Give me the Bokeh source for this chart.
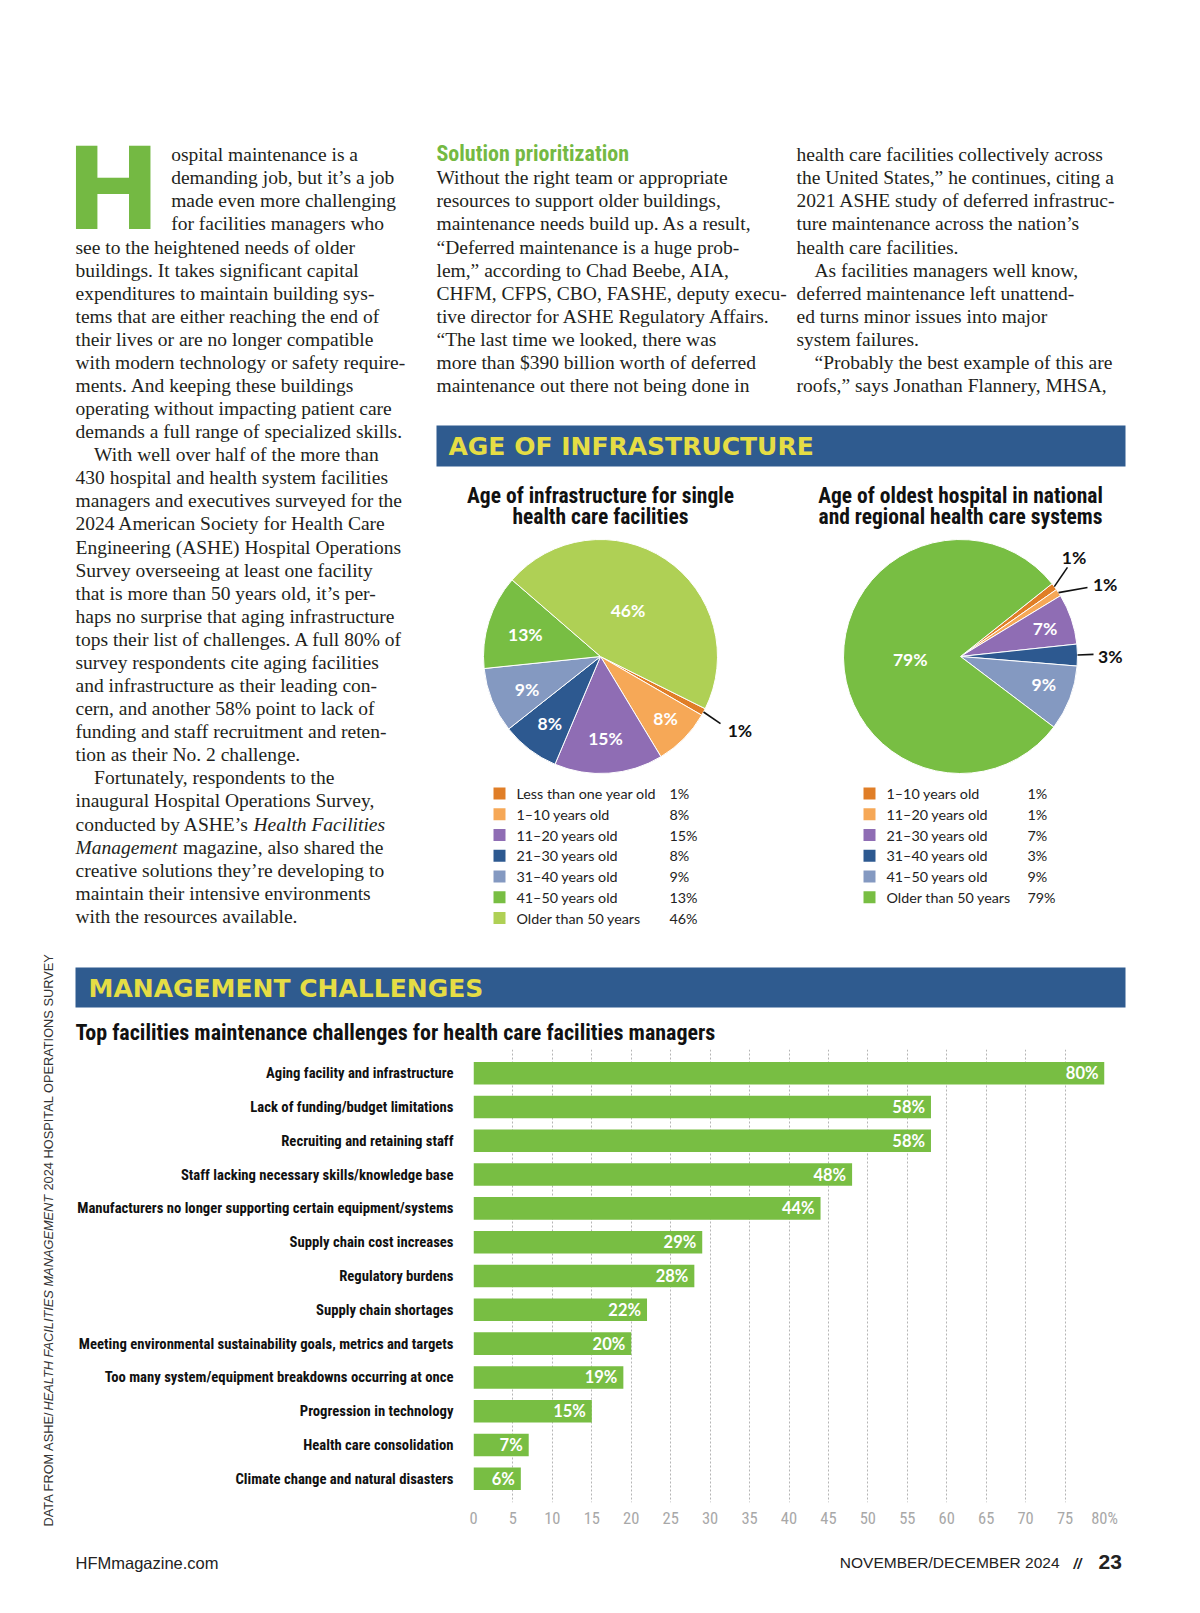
import numpy as np
from bokeh.plotting import figure
from bokeh.models import Range1d, FixedTicker
from bokeh.layouts import column, row
from bokeh.embed import file_html
from bokeh.resources import INLINE
from bokeh.core.properties import value

# ---------------- DATA ----------------
single_cats = ["Less than one year old", "1\u201310 years old", "11\u201320 years old",
               "21\u201330 years old", "31\u201340 years old", "41\u201350 years old",
               "Older than 50 years"]
single_vals = [1, 8, 15, 8, 9, 13, 46]

system_cats = ["1\u201310 years old", "11\u201320 years old", "21\u201330 years old",
               "31\u201340 years old", "41\u201350 years old", "Older than 50 years"]
system_vals = [1, 1, 7, 3, 9, 79]

challenges = [
    "Aging facility and infrastructure",
    "Lack of funding/budget limitations",
    "Recruiting and retaining staff",
    "Staff lacking necessary skills/knowledge base",
    "Manufacturers no longer supporting certain equipment/systems",
    "Supply chain cost increases",
    "Regulatory burdens",
    "Supply chain shortages",
    "Meeting environmental sustainability goals, metrics and targets",
    "Too many system/equipment breakdowns occurring at once",
    "Progression in technology",
    "Health care consolidation",
    "Climate change and natural disasters",
]
challenge_vals = [80, 58, 58, 48, 44, 29, 28, 22, 20, 19, 15, 7, 6]

x_ticks = list(range(0, 81, 5))
x_tick_labels = [str(t) for t in x_ticks[:-1]] + ["80%"]

# ---------------- STYLE ----------------
DARK_OR = "#e07e27"
LIGHT_OR = "#f6a857"
PURPLE = "#8f6db4"
DBLUE = "#2d5990"
GBLUE = "#8499c1"
GREEN = "#78be43"
LGREEN = "#afd055"
BANNER = "#2f5b8f"
YELLOW = "#e5dd45"
HGREEN = "#74b943"
INK = "#231f20"

single_colors = [DARK_OR, LIGHT_OR, PURPLE, DBLUE, GBLUE, GREEN, LGREEN]
system_colors = [DARK_OR, LIGHT_OR, PURPLE, DBLUE, GBLUE, GREEN]

SERIF = "Liberation Serif"
NARROW = "Roboto Condensed, Roboto"
SANS = "Liberation Sans"
HUM = "Lato"

PAGE_W = 1184


def page_fig(x0, x1, y0, y1):
    p = figure(width=x1 - x0, height=y1 - y0,
               x_range=Range1d(x0, x1), y_range=Range1d(-y1, -y0),
               x_axis_type=None, y_axis_type=None,
               toolbar_location=None, output_backend="svg", min_border=0)
    p.grid.visible = False
    p.outline_line_color = None
    p.background_fill_color = "white"
    p.border_fill_color = "white"
    return p


def txt(p, xs, ys, texts, size, font=SERIF, style="normal", color=INK,
        align="left", baseline="middle", angle=0.0):
    if not isinstance(xs, (list, tuple)):
        xs = [xs]
    if not isinstance(ys, (list, tuple)):
        ys = [ys]
    if isinstance(texts, str):
        texts = [texts]
    if len(xs) == 1 and len(texts) > 1:
        xs = xs * len(texts)
    p.text(x=xs, y=[-y for y in ys], text=texts, text_font=value(font),
           text_font_size=f"{size}px", text_font_style=style, text_color=color,
           text_align=align, text_baseline=baseline, angle=angle)


# ================= FIGURE A (top of page) =================
A = page_fig(0, PAGE_W, 0, 940)

LY0, LS = 154.2, 23.08
BODY = 19.5


def ly(i):
    return LY0 + i * LS


# drop cap
txt(A, 65, 189, "H", 114, font="DejaVu Sans", style="bold", color=HGREEN, baseline="middle")

col1 = [
    (170.7, "ospital maintenance is a"),
    (170.7, "demanding job, but it\u2019s a job"),
    (170.7, "made even more challenging"),
    (170.7, "for facilities managers who"),
    (75, "see to the heightened needs of older"),
    (75, "buildings. It takes significant capital"),
    (75, "expenditures to maintain building sys-"),
    (75, "tems that are either reaching the end of"),
    (75, "their lives or are no longer compatible"),
    (75, "with modern technology or safety require-"),
    (75, "ments. And keeping these buildings"),
    (75, "operating without impacting patient care"),
    (75, "demands a full range of specialized skills."),
    (93.6, "With well over half of the more than"),
    (75, "430 hospital and health system facilities"),
    (75, "managers and executives surveyed for the"),
    (75, "2024 American Society for Health Care"),
    (75, "Engineering (ASHE) Hospital Operations"),
    (75, "Survey overseeing at least one facility"),
    (75, "that is more than 50 years old, it\u2019s per-"),
    (75, "haps no surprise that aging infrastructure"),
    (75, "tops their list of challenges. A full 80% of"),
    (75, "survey respondents cite aging facilities"),
    (75, "and infrastructure as their leading con-"),
    (75, "cern, and another 58% point to lack of"),
    (75, "funding and staff recruitment and reten-"),
    (75, "tion as their No. 2 challenge."),
    (93.6, "Fortunately, respondents to the"),
    (75, "inaugural Hospital Operations Survey,"),
    (75, "conducted by ASHE\u2019s"),
    (182.5, "magazine, also shared the"),
    (75, "creative solutions they\u2019re developing to"),
    (75, "maintain their intensive environments"),
    (75, "with the resources available."),
]
txt(A, [c[0] for c in col1], [ly(i) for i in range(len(col1))], [c[1] for c in col1], BODY)
txt(A, [253, 75], [ly(29), ly(30)], ["Health Facilities", "Management"], BODY, style="italic")

txt(A, 436, ly(0) - 1, "Solution prioritization", 22, font=NARROW, style="bold", color=HGREEN)
col2 = [
    "Without the right team or appropriate",
    "resources to support older buildings,",
    "maintenance needs build up. As a result,",
    "\u201cDeferred maintenance is a huge prob-",
    "lem,\u201d according to Chad Beebe, AIA,",
    "CHFM, CFPS, CBO, FASHE, deputy execu-",
    "tive director for ASHE Regulatory Affairs.",
    "\u201cThe last time we looked, there was",
    "more than $390 billion worth of deferred",
    "maintenance out there not being done in",
]
txt(A, [436] * len(col2), [ly(i + 1) for i in range(len(col2))], col2, BODY)

col3 = [
    (796, "health care facilities collectively across"),
    (796, "the United States,\u201d he continues, citing a"),
    (796, "2021 ASHE study of deferred infrastruc-"),
    (796, "ture maintenance across the nation\u2019s"),
    (796, "health care facilities."),
    (814, "As facilities managers well know,"),
    (796, "deferred maintenance left unattend-"),
    (796, "ed turns minor issues into major"),
    (796, "system failures."),
    (814, "\u201cProbably the best example of this are"),
    (796, "roofs,\u201d says Jonathan Flannery, MHSA,"),
]
txt(A, [c[0] for c in col3], [ly(i) for i in range(len(col3))], [c[1] for c in col3], BODY)

# banner
A.quad(left=436, right=1125, top=-425, bottom=-466, fill_color=BANNER, line_color=None)
txt(A, 448, 446, "AGE OF INFRASTRUCTURE", 25, font="DejaVu Sans", style="bold", color=YELLOW)

# pie titles
txt(A, [600, 600], [495, 516], ["Age of infrastructure for single", "health care facilities"],
    21.5, font=NARROW, style="bold", color="#111111", align="center")
txt(A, [960, 960], [495, 516], ["Age of oldest hospital in national", "and regional health care systems"],
    21.5, font=NARROW, style="bold", color="#111111", align="center")


def draw_pie(p, cx, cy, r, vals, colors, a0, lab_r, lab_da, outside):
    v = np.array(vals, dtype=float)
    cum = np.concatenate([[0.0], np.cumsum(v)])
    tot = cum[-1]
    a_st = a0 - cum[:-1] / tot * 360.0
    a_en = a0 - cum[1:] / tot * 360.0
    p.wedge(x=cx, y=-cy, radius=r, start_angle=list(np.radians(a_st)),
            end_angle=list(np.radians(a_en)), direction="clock",
            fill_color=colors, line_color="white", line_width=1)
    mid = (a_st + a_en) / 2.0
    in_x, in_y, in_t = [], [], []
    out_x, out_y, out_t = [], [], []
    sx0, sy0, sx1, sy1 = [], [], [], []
    for i, val in enumerate(vals):
        lab = f"{val}%"
        if outside[i] is None:
            a = np.radians(mid[i] + lab_da[i])
            in_x.append(cx + lab_r[i] * r * np.cos(a))
            in_y.append(cy - lab_r[i] * r * np.sin(a))
            in_t.append(lab)
        else:
            lr, lda, tr, tda = outside[i]
            am = np.radians(mid[i])
            al = np.radians(mid[i] + lda)
            at = np.radians(mid[i] + tda)
            sx0.append(cx + r * np.cos(am)); sy0.append(-(cy - r * np.sin(am)))
            sx1.append(cx + lr * r * np.cos(al)); sy1.append(-(cy - lr * r * np.sin(al)))
            out_x.append(cx + tr * r * np.cos(at))
            out_y.append(cy - tr * r * np.sin(at))
            out_t.append(lab)
    txt(p, in_x, in_y, in_t, 17.5, font=HUM, style="bold", color="white", align="center")
    if out_t:
        p.segment(x0=sx0, y0=sy0, x1=sx1, y1=sy1, line_color="#111111", line_width=1.6)
        txt(p, out_x, out_y, out_t, 17.5, font=HUM, style="bold", color="#111111", align="center")


draw_pie(A, 600, 656, 117, single_vals, single_colors, -26.5,
         [0, 0.77, 0.70, 0.72, 0.69, 0.67, 0.46],
         [0, 0.7, -0.6, 0.3, 2.3, 1.1, 3.0],
         [(1.175, -0.9, 1.35, 0.3), None, None, None, None, None, None])
draw_pie(A, 960, 656, 117, system_vals, system_colors, 38.5,
         [0, 0, 0.76, 0, 0.75, 0.43],
         [0, 0, -0.5, 0, 2.5, 2.5],
         [(1.19, 3.1, 1.29, 4.5), (1.235, -4.6, 1.38, -6.7), None,
          (1.137, 0.2, 1.28, -0.7), None, None])

# legends
LEG_Y0, LEG_S = 793, 20.75
ys1 = [LEG_Y0 + i * LEG_S for i in range(len(single_cats))]
A.rect(x=499, y=[-y for y in ys1], width=12, height=12, fill_color=single_colors, line_color=None)
txt(A, [516] * len(single_cats), ys1, single_cats, 14.3, font=HUM, color="#222222")
txt(A, [669] * len(single_cats), ys1, [f"{v}%" for v in single_vals], 14.3, font=HUM, color="#222222")

ys2 = [LEG_Y0 + i * LEG_S for i in range(len(system_cats))]
A.rect(x=869, y=[-y for y in ys2], width=12, height=12, fill_color=system_colors, line_color=None)
txt(A, [886] * len(system_cats), ys2, system_cats, 14.3, font=HUM, color="#222222")
txt(A, [1027] * len(system_cats), ys2, [f"{v}%" for v in system_vals], 14.3, font=HUM, color="#222222")

# ================= Vertical credit strip =================
V = page_fig(0, 70, 940, 1530)
half_pi = np.pi / 2
txt(V, 48, 1526, "DATA FROM ASHE/", 12.8, font=SANS, color="#333333", angle=half_pi)
txt(V, 48, 1410, "HEALTH FACILITIES MANAGEMENT", 12.8, font=SANS, style="italic", color="#333333", angle=half_pi)
txt(V, 48, 1190, "2024 HOSPITAL OPERATIONS SURVEY", 12.8, font=SANS, color="#333333", angle=half_pi)

# ================= Banner + title for bar chart =================
B1 = page_fig(70, PAGE_W, 940, 1045)
B1.quad(left=75, right=1125, top=-967, bottom=-1007, fill_color=BANNER, line_color=None)
txt(B1, 88, 988, "MANAGEMENT CHALLENGES", 25, font="DejaVu Sans", style="bold", color=YELLOW)
txt(B1, 75, 1032, "Top facilities maintenance challenges for health care facilities managers",
    22, font=NARROW, style="bold", color="#111111")

# ================= Bar chart =================
n = len(challenges)
idx = list(range(n))
B2 = figure(width=PAGE_W - 70, height=485, x_range=Range1d(0, 80), y_range=Range1d(n - 0.3, -0.7),
            toolbar_location=None, output_backend="svg",
            min_border_left=403, min_border_right=PAGE_W - 1104, min_border_top=4, min_border_bottom=27)
B2.outline_line_color = None
B2.background_fill_color = "white"
B2.border_fill_color = "white"
B2.hbar(y=idx, left=0, right=challenge_vals, height=0.667, fill_color=GREEN, line_color=None)
B2.text(x=challenge_vals, y=idx, text=[f"{v}%" for v in challenge_vals], x_offset=-6,
        text_align="right", text_baseline="middle", text_color="white",
        text_font=value(HUM), text_font_style="bold", text_font_size="16.5px")

B2.xaxis.ticker = FixedTicker(ticks=x_ticks)
B2.xaxis.major_label_overrides = {t: l for t, l in zip(x_ticks, x_tick_labels)}
B2.xaxis.axis_line_color = None
B2.xaxis.major_tick_line_color = None
B2.xaxis.minor_tick_line_color = None
B2.xaxis.major_tick_out = 0
B2.xaxis.major_label_standoff = 6
B2.xaxis.major_label_text_font = NARROW
B2.xaxis.major_label_text_font_size = "16.5px"
B2.xaxis.major_label_text_color = "#a8a8a8"

B2.yaxis.ticker = FixedTicker(ticks=idx)
B2.yaxis.major_label_overrides = {i: c for i, c in zip(idx, challenges)}
B2.yaxis.axis_line_color = None
B2.yaxis.major_tick_line_color = None
B2.yaxis.minor_tick_line_color = None
B2.yaxis.major_tick_out = 0
B2.yaxis.major_label_standoff = 20
B2.yaxis.major_label_text_font = NARROW
B2.yaxis.major_label_text_font_style = "bold"
B2.yaxis.major_label_text_font_size = "14.7px"
B2.yaxis.major_label_text_color = "#111111"

B2.ygrid.visible = False
B2.xgrid.grid_line_color = "#b5b5b5"
B2.xgrid.grid_line_dash = "2 2"
B2.xgrid.grid_line_width = 1

# ================= Footer =================
C = page_fig(0, PAGE_W, 1530, 1600)
txt(C, 75, 1562, "HFMmagazine.com", 16.5, font=SANS, color="#222222")
txt(C, 1059, 1562, "NOVEMBER/DECEMBER 2024", 15.5, font=SANS, color="#222222", align="right")
txt(C, 1077, 1563, "//", 14, font=SANS, style="bold italic", color="#222222", align="center")
txt(C, 1098, 1561, "23", 21, font=SANS, style="bold", color="#222222")

layout = column(A, row(V, column(row(B1), B2)), C)
open("out.html", "w").write(file_html(layout, INLINE))
